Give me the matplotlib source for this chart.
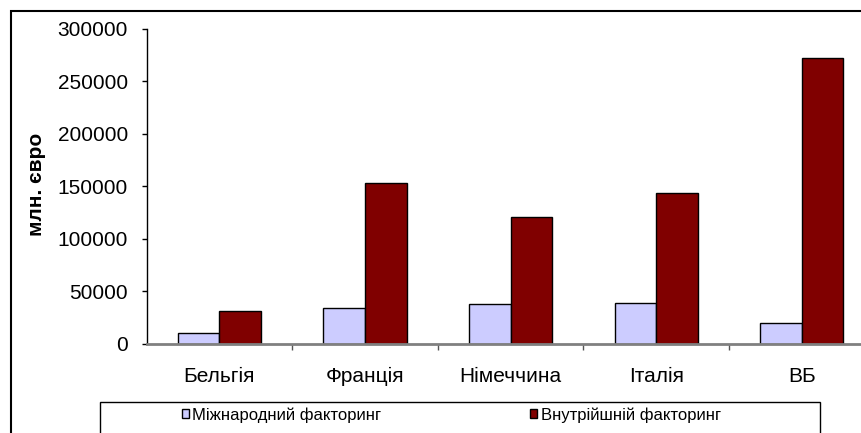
import matplotlib
matplotlib.use("Agg")
import matplotlib.pyplot as plt
import numpy as np
from matplotlib.patches import Rectangle

plt.rcParams['font.family'] = ['Liberation Sans', 'DejaVu Sans']

countries = ['Бельгія', 'Франція', 'Німеччина', 'Італія', 'ВБ']
intl = [10000, 34000, 38000, 39000, 20000]
domestic = [31000, 153500, 121000, 143500, 272000]
series_names = ['Міжнародний факторинг', 'Внутрійшній факторинг']
yticks = [0, 50000, 100000, 150000, 200000, 250000, 300000]

W, H = 861, 433
fig = plt.figure(figsize=(W / 100, H / 100), dpi=100)

# plot area runs a bit past the right edge, like the cropped original
left, right, bottom, top = 146.7, 874.6, 343.7, 29.0
ax = fig.add_axes([left / W, (H - bottom) / H, (right - left) / W, (bottom - top) / H])

x = np.arange(len(countries))
bw = 1 / 3.5  # Excel gap width 150%
b1 = ax.bar(x - bw / 2, intl, bw, color='#CCCCFF', edgecolor='black', linewidth=1, zorder=3)
b2 = ax.bar(x + bw / 2, domestic, bw, color='#800000', edgecolor='black', linewidth=1, zorder=3)

ax.set_xlim(-0.5, len(countries) - 0.5)
ax.set_ylim(0, 300000)
ax.set_yticks(yticks)
ax.set_yticklabels([str(v) for v in yticks], fontsize=15)
ax.set_xticks(x)
ax.set_xticklabels(countries, fontsize=15)
ax.tick_params(axis='x', length=0, pad=16.5)
ax.set_xticks(np.arange(len(countries)) + 0.5, minor=True)
ax.tick_params(axis='x', which='minor', length=4.5, color='#555555', width=1)
ax.tick_params(axis='y', length=3.6, color='black', width=1, pad=10)

for s in ['top', 'right']:
    ax.spines[s].set_visible(False)
ax.spines['left'].set_color('black')
ax.spines['left'].set_linewidth(1)
ax.spines['bottom'].set_color('#808080')
ax.spines['bottom'].set_linewidth(2)
ax.spines['bottom'].set_zorder(4)

ax.set_ylabel('млн. євро', fontsize=15, fontweight='bold', va='center')
ax.yaxis.set_label_coords((36.7 - left) / (right - left), 0.505)

# outer chart frame (only left and top edges are inside the picture)
fig.patches.append(Rectangle((11 / W, -0.2), 1.2, (H - 10.5) / H + 0.2,
                             transform=fig.transFigure, fill=False,
                             edgecolor='black', linewidth=1.5))
# legend frame
fig.patches.append(Rectangle((100 / W, -0.2), 720 / W, (H - 402.3) / H + 0.2,
                             transform=fig.transFigure, fill=False,
                             edgecolor='black', linewidth=1))

fig.legend([b1, b2], series_names, loc='center left', ncol=2,
           bbox_to_anchor=(181.5 / W, (H - 415) / H), frameon=False,
           fontsize=12, handlelength=0.45, handleheight=0.45,
           handletextpad=0.2, columnspacing=8.9, borderpad=0, borderaxespad=0)

fig.savefig('out.png', dpi=100)
